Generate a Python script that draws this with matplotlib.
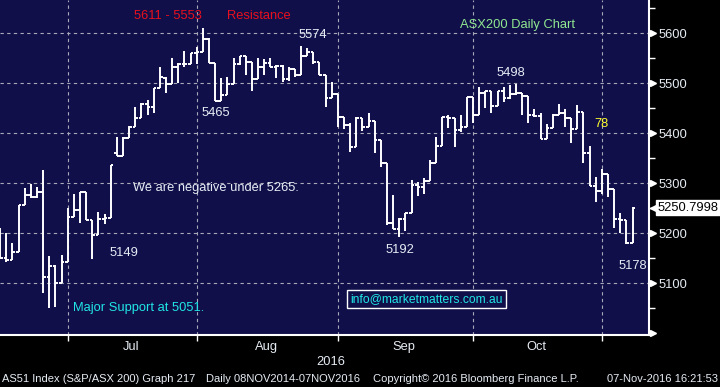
import matplotlib
matplotlib.use("Agg")
import matplotlib.pyplot as plt
from matplotlib.collections import LineCollection
import matplotlib.transforms as mtransforms

plt.rcParams['font.family'] = ['Liberation Sans', 'DejaVu Sans']

# ---- data (trading-day index, 0 = 1 Jul 2016) ----
start_index = -11
opens = [5190, 5150, 5147, 5163, 5257, 5276, 5272, 5282, 5112, 5135, 5101,
         5143, 5232, 5247, 5282, 5227, 5197, 5228, 5230, 5360, 5355, 5390,
         5412, 5430, 5458, 5452, 5490, 5510, 5498, 5532, 5538, 5538, 5560,
         5563, 5589, 5541, 5465, 5477, 5498, 5538, 5555, 5543, 5508, 5532,
         5541, 5532, 5535, 5508, 5528, 5517, 5555, 5562, 5542, 5517, 5470,
         5479, 5433, 5417, 5372, 5430, 5413, 5425, 5387, 5340, 5220, 5208,
         5228, 5241, 5296, 5293, 5305, 5340, 5375, 5433, 5430, 5406, 5412,
         5472, 5437, 5481, 5485, 5455, 5485, 5470, 5478, 5480, 5474, 5437,
         5435, 5388, 5410, 5437, 5441, 5430, 5408, 5443, 5360, 5295, 5284,
         5318, 5289, 5228, 5227, 5180]
highs = [5210, 5201, 5180, 5257, 5290, 5298, 5293, 5326, 5155, 5137, 5157,
         5250, 5279, 5282, 5282, 5227, 5243, 5238, 5336, 5393, 5392, 5414,
         5452, 5461, 5466, 5490, 5532, 5512, 5550, 5540, 5565, 5560, 5572,
         5611, 5590, 5541, 5510, 5512, 5550, 5555, 5555, 5543, 5550, 5548,
         5550, 5537, 5537, 5532, 5528, 5574, 5570, 5563, 5543, 5517, 5503,
         5479, 5433, 5420, 5432, 5430, 5440, 5425, 5387, 5340, 5277, 5230,
         5241, 5307, 5303, 5310, 5347, 5393, 5433, 5437, 5430, 5437, 5473,
         5473, 5493, 5485, 5485, 5485, 5492, 5497, 5498, 5480, 5474, 5448,
         5441, 5419, 5439, 5458, 5448, 5430, 5457, 5443, 5375, 5312, 5329,
         5318, 5289, 5240, 5227, 5252]
lows = [5150, 5143, 5147, 5163, 5257, 5270, 5270, 5081, 5051, 5053, 5101,
        5143, 5232, 5220, 5227, 5149, 5197, 5218, 5230, 5354, 5354, 5390,
        5412, 5430, 5436, 5441, 5490, 5480, 5498, 5500, 5532, 5538, 5538,
        5563, 5541, 5465, 5465, 5477, 5498, 5536, 5517, 5485, 5508, 5517,
        5532, 5510, 5503, 5505, 5513, 5517, 5555, 5539, 5517, 5453, 5470,
        5413, 5408, 5363, 5372, 5405, 5412, 5360, 5333, 5217, 5208, 5192,
        5205, 5240, 5275, 5279, 5305, 5340, 5375, 5410, 5373, 5403, 5412,
        5420, 5437, 5450, 5441, 5455, 5462, 5468, 5476, 5436, 5421, 5433,
        5388, 5388, 5410, 5437, 5412, 5380, 5408, 5341, 5295, 5263, 5279,
        5273, 5210, 5201, 5178, 5180]
closes = [5150, 5147, 5163, 5257, 5276, 5272, 5282, 5112, 5135, 5101, 5143,
          5232, 5247, 5282, 5227, 5197, 5228, 5230, 5336, 5355, 5390, 5412,
          5430, 5458, 5452, 5490, 5512, 5498, 5532, 5538, 5538, 5560, 5563,
          5589, 5541, 5465, 5477, 5498, 5538, 5555, 5543, 5508, 5532, 5541,
          5532, 5535, 5508, 5528, 5517, 5555, 5562, 5542, 5517, 5470, 5479,
          5433, 5417, 5372, 5430, 5413, 5425, 5387, 5340, 5220, 5208, 5228,
          5241, 5296, 5293, 5305, 5340, 5375, 5433, 5430, 5406, 5412, 5472,
          5437, 5481, 5485, 5455, 5485, 5470, 5478, 5480, 5474, 5437, 5435,
          5388, 5410, 5437, 5441, 5430, 5408, 5443, 5360, 5295, 5284, 5318,
          5289, 5228, 5227, 5180, 5250.7998]
month_starts = [0, 21, 44, 66, 87]
month_names = ['Jul', 'Aug', 'Sep', 'Oct']
month_label_pos = [10.3, 32.3, 54.8, 76.4]
y_major = [5100, 5200, 5300, 5400, 5500, 5600]
y_minor = [5050, 5150, 5250, 5350, 5450, 5550, 5650]
last_price = 5250.7998

BG = '#100f4a'
FG = '#e6ecf4'

fig = plt.figure(figsize=(7.2, 3.87), dpi=100, facecolor='black')
ax = fig.add_axes([0, 52 / 387, 649 / 720, 335 / 387])
ax.set_facecolor(BG)

# OHLC bars
segs = []
tick = 0.45
for k in range(len(closes)):
    x = start_index + k
    segs.append([(x, lows[k]), (x, highs[k])])
    segs.append([(x - tick, opens[k]), (x, opens[k])])
    segs.append([(x, closes[k]), (x + tick, closes[k])])
ax.add_collection(LineCollection(segs, colors='white', linewidths=1.4,
                                 capstyle='butt', zorder=3))

ax.set_xlim(-11.03, 94.67)
ax.set_ylim(4996.6, 5666.6)

# grid
for v in y_major:
    ax.axhline(v, color='#a8a8b8', lw=0.8, ls=(0, (3, 3)), zorder=1)
for m in month_starts:
    ax.axvline(m, color='#a8a8b8', lw=0.8, ls=(0, (3, 3)), zorder=1)

# spines
for s in ['left', 'top']:
    ax.spines[s].set_visible(False)
for s in ['right', 'bottom']:
    ax.spines[s].set_color('white')
    ax.spines[s].set_linewidth(1.5)

# y axis on right
ax.yaxis.tick_right()
ax.set_yticks(y_major)
ax.set_yticklabels([str(v) for v in y_major])
ax.set_yticks(y_minor, minor=True)
ax.tick_params(axis='y', which='major', length=0, pad=7, labelsize=9.3,
               labelcolor=FG)
ax.tick_params(axis='y', which='minor', length=4, width=1, color='white',
               direction='out')
trans_y = mtransforms.blended_transform_factory(ax.transAxes, ax.transData)
ax.plot([1 + 4 / 649] * (len(y_major) + 1), [5000] + y_major, ls='none',
        marker='>', ms=5, color='white', transform=trans_y, clip_on=False)

# last price tag
ax.plot([1 + 6 / 649], [last_price], marker='<', ms=7, color='white',
        transform=trans_y, clip_on=False)
ax.text(1 + 9 / 649, last_price, f'{last_price:.4f}', transform=trans_y,
        ha='left', va='center', fontsize=9.3, color='black',
        bbox=dict(boxstyle='square,pad=0.12', fc='white', ec='white'))

# x axis
ax.set_xticks(month_starts)
ax.set_xticklabels([''] * len(month_starts))
ax.set_xticks(month_label_pos, minor=True)
ax.set_xticklabels(month_names, minor=True)
ax.tick_params(axis='x', which='major', length=4, width=1, color='white',
               direction='out')
ax.tick_params(axis='x', which='minor', length=0, pad=4, labelsize=9.3,
               labelcolor=FG)
ax.text(42.9, -0.081, '2016', transform=mtransforms.blended_transform_factory(
    ax.transData, ax.transAxes), ha='center', va='center', fontsize=9.3,
    color=FG)

# annotations
ax.text(16.4, 5635, '5611 - 5553', color='#e8101e', fontsize=9.3,
        ha='center', va='center')
ax.text(31.2, 5635, 'Resistance', color='#e8101e', fontsize=9.3,
        ha='center', va='center')
ax.text(40.0, 5597, '5574', color=FG, fontsize=9.3, ha='center', va='center')
ax.text(24.2, 5441, '5465', color=FG, fontsize=9.3, ha='center', va='center')
ax.text(73.2, 5617, 'ASX200 Daily Chart', color='#90e890', fontsize=9.3,
        ha='center', va='center')
ax.text(72.2, 5521, '5498', color=FG, fontsize=9.3, ha='center', va='center')
ax.text(87.0, 5419, '78', color='#ffff30', fontsize=9.3, ha='center',
        va='center')
ax.text(24.1, 5291, 'We are negative under 5265.', color=FG, fontsize=9.3,
        ha='center', va='center')
ax.text(9.2, 5161, '5149', color=FG, fontsize=9.3, ha='center', va='center')
ax.text(54.1, 5167, '5192', color=FG, fontsize=9.3, ha='center', va='center')
ax.text(92.1, 5135, '5178', color=FG, fontsize=9.3, ha='center', va='center')
ax.text(11.5, 5051, 'Major Support at 5051.', color='#20e6e6', fontsize=9.3,
        ha='center', va='center')
ax.text(58.4, 5069, 'info@marketmatters.com.au', color='#20e6e6',
        fontsize=8.7, ha='center', va='center', zorder=5,
        bbox=dict(boxstyle='square,pad=0.25', fc=BG, ec='white', lw=1))

# footer
fy = 1 - 379 / 387
fig.text(2 / 720, fy, 'AS51 Index (S&P/ASX 200) Graph 217', color=FG,
         fontsize=8, ha='left', va='center')
fig.text(206 / 720, fy, 'Daily 08NOV2014-07NOV2016', color=FG, fontsize=8,
         ha='left', va='center')
fig.text(373 / 720, fy, 'Copyright\u00a9 2016 Bloomberg Finance L.P.',
         color=FG, fontsize=8, ha='left', va='center')
fig.text(718 / 720, fy, '07-Nov-2016 16:21:53', color=FG, fontsize=8,
         ha='right', va='center')

fig.savefig('out.png', dpi=100, facecolor='black')
